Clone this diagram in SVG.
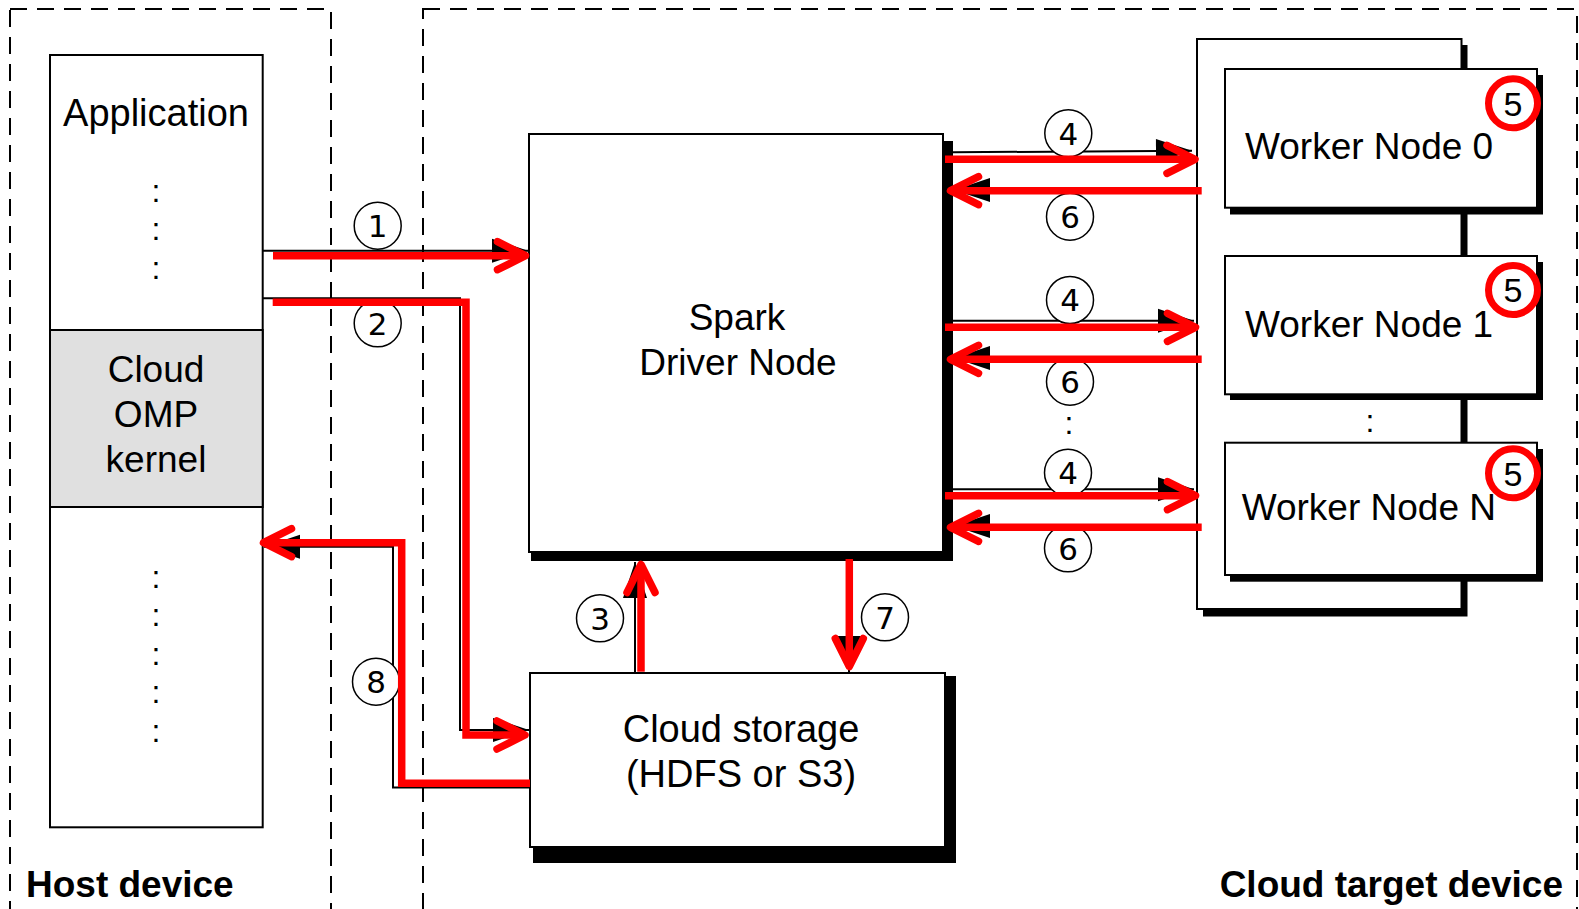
<svg xmlns="http://www.w3.org/2000/svg" width="1579" height="909" viewBox="0 0 1579 909">
<defs>
<style>
.dash{fill:none;stroke:#000;stroke-width:2;stroke-dasharray:17 10}
.box{fill:#fff;stroke:#000;stroke-width:2}
.gray{fill:#e0e0e0;stroke:#000;stroke-width:2}
.shadow{fill:#000}
.blk{fill:none;stroke:#000;stroke-width:2;marker-end:url(#bh)}
.red{fill:none;stroke:#f00;stroke-width:7.5;stroke-linejoin:miter;marker-end:url(#chev)}
.num circle{fill:#fff;stroke:#000;stroke-width:1.5}
.num text{font-family:"DejaVu Sans",sans-serif;font-size:31px;text-anchor:middle}
.five circle{fill:#fff;stroke:#f00;stroke-width:7}
.five text{font-family:"Liberation Sans",Arial,sans-serif;font-size:34px;text-anchor:middle}
.t{font-family:"Liberation Sans",Arial,sans-serif;font-size:37px;text-anchor:middle;fill:#000}
.ts{font-family:"Liberation Sans",Arial,sans-serif;font-size:37px;fill:#000}
.dots{font-family:"Liberation Sans",Arial,sans-serif;font-size:32px;text-anchor:middle;fill:#000}
.lbl{font-family:"Liberation Sans",Arial,sans-serif;font-size:37px;font-weight:bold;fill:#000}
</style>
<marker id="chev" markerUnits="userSpaceOnUse" orient="auto" markerWidth="1" markerHeight="1" refX="0" refY="0" style="overflow:visible">
<path d="M-28,-14 L0,0 L-28,14" fill="none" stroke="#f00" stroke-width="7.5" stroke-linecap="round" stroke-linejoin="round"/>
</marker>
<marker id="bh" markerUnits="userSpaceOnUse" orient="auto" markerWidth="1" markerHeight="1" refX="0" refY="0" style="overflow:visible">
<path d="M0,0 L-36,-12 L-36,12 Z" fill="#000"/>
</marker>
</defs>
<rect width="1579" height="909" fill="#fff"/>

<g id="host-device">
<rect class="dash" x="10" y="9" width="321" height="930"/>
<text class="lbl" x="26" y="897">Host device</text>
</g>
<g id="cloud-target-device">
<rect class="dash" x="423" y="9" width="1154" height="930"/>
<text class="lbl" x="1563" y="897" text-anchor="end">Cloud target device</text>
</g>

<g id="application">
<rect class="box" x="50" y="55" width="212.7" height="772.3"/>
<text class="t" x="156" y="126" style="font-size:38px">Application</text>
<text class="dots" x="156" y="202">:</text>
<text class="dots" x="156" y="240">:</text>
<text class="dots" x="156" y="279">:</text>
<text class="dots" x="156" y="588">:</text>
<text class="dots" x="156" y="626">:</text>
<text class="dots" x="156" y="665">:</text>
<text class="dots" x="156" y="703">:</text>
<text class="dots" x="156" y="742">:</text>
</g>
<g id="cloud-omp-kernel">
<rect class="gray" x="50" y="330" width="212.7" height="177"/>
<text class="t" x="156" y="382">Cloud</text>
<text class="t" x="156" y="427">OMP</text>
<text class="t" x="156" y="472">kernel</text>
</g>

<g id="spark-driver">
<rect class="shadow" x="531" y="141" width="422" height="420"/>
<rect class="box" x="529" y="134" width="414" height="418"/>
<text class="t" x="737" y="330">Spark</text>
<text class="t" x="738" y="374.5">Driver Node</text>
</g>

<g id="cloud-storage">
<rect class="shadow" x="533" y="676" width="423" height="187"/>
<rect class="box" x="530" y="673" width="415" height="174"/>
<text class="t" x="741" y="741.5" style="font-size:38px">Cloud storage</text>
<text class="t" x="741" y="786.5" style="font-size:38px">(HDFS or S3)</text>
</g>

<g id="worker-container">
<rect class="shadow" x="1203" y="45" width="264.5" height="571.5"/>
<rect class="box" x="1197" y="39" width="264.5" height="570"/>
<text class="dots" x="1370" y="432">:</text>
</g>
<g id="worker-0">
<rect class="shadow" x="1230" y="75" width="313" height="139.5"/>
<rect class="box" x="1225" y="69" width="312" height="138.7"/>
<text class="ts" x="1245" y="159.3">Worker Node 0</text>
</g>
<g id="worker-1">
<rect class="shadow" x="1230" y="262" width="313" height="138"/>
<rect class="box" x="1225" y="256" width="312" height="138.3"/>
<text class="ts" x="1245" y="336.7">Worker Node 1</text>
</g>
<g id="worker-n">
<rect class="shadow" x="1230" y="449" width="313" height="132.7"/>
<rect class="box" x="1225" y="442.7" width="312" height="132.3"/>
<text class="ts" x="1241.7" y="520">Worker Node N</text>
</g>

<g id="connectors">
<path class="blk" d="M263,250.7 H528"/>
<path class="blk" d="M263,298.3 H460 V730 H529"/>
<path class="blk" d="M635,673 V562"/>
<path class="blk" d="M849,561 V672"/>
<path class="blk" d="M530,787.5 H393 V546.7 H264"/>
<path class="blk" d="M953,152.3 L1192,150.7"/>
<path class="blk" d="M1197,190 H954"/>
<path class="blk" d="M953,320.7 H1194"/>
<path class="blk" d="M1197,358 H954"/>
<path class="blk" d="M953,489.3 H1194"/>
<path class="blk" d="M1197,526 H954"/>

<g class="num">
<circle cx="377.7" cy="225.7" r="23.5"/><text x="377.7" y="237">1</text>
<circle cx="377.7" cy="323.3" r="23.5"/><text x="377.7" y="334.6">2</text>
<circle cx="600" cy="618.3" r="23.5"/><text x="600" y="629.6">3</text>
<circle cx="1068.3" cy="133.3" r="23.5"/><text x="1068.3" y="144.6">4</text>
<circle cx="1070" cy="216.7" r="23.5"/><text x="1070" y="228">6</text>
<circle cx="1070" cy="300" r="23.5"/><text x="1070" y="311.3">4</text>
<circle cx="1070" cy="381.7" r="23.5"/><text x="1070" y="393">6</text>
<circle cx="1068" cy="472.7" r="23.5"/><text x="1068" y="484">4</text>
<circle cx="1068" cy="548.3" r="23.5"/><text x="1068" y="559.6">6</text>
<circle cx="885" cy="617.3" r="23.5"/><text x="885" y="628.6">7</text>
<circle cx="376" cy="681.7" r="23.5"/><text x="376" y="693">8</text>
</g>
<text class="dots" x="1069" y="434">:</text>

<path class="red" d="M273,255.7 H525.5"/>
<path class="red" d="M272.7,302.3 H466 V735 H525"/>
<path class="red" d="M641,671.7 V564.5"/>
<path class="red" d="M849.3,559 V666.5"/>
<path class="red" d="M530,783.3 H401.7 V542.7 H263.5"/>
<path class="red" d="M945,159.3 H1195"/>
<path class="red" d="M1201.7,190.7 H950.5"/>
<path class="red" d="M945,327.3 H1195.5"/>
<path class="red" d="M1201.7,359.3 H950.5"/>
<path class="red" d="M945,495.7 H1195.5"/>
<path class="red" d="M1201.7,527.3 H950.5"/>

<g class="five">
<circle cx="1513" cy="103.3" r="24.5"/><text x="1513" y="115.5">5</text>
<circle cx="1513" cy="290" r="24.5"/><text x="1513" y="302.2">5</text>
<circle cx="1513" cy="473.3" r="24.5"/><text x="1513" y="485.5">5</text>
</g>
</g>
</svg>
